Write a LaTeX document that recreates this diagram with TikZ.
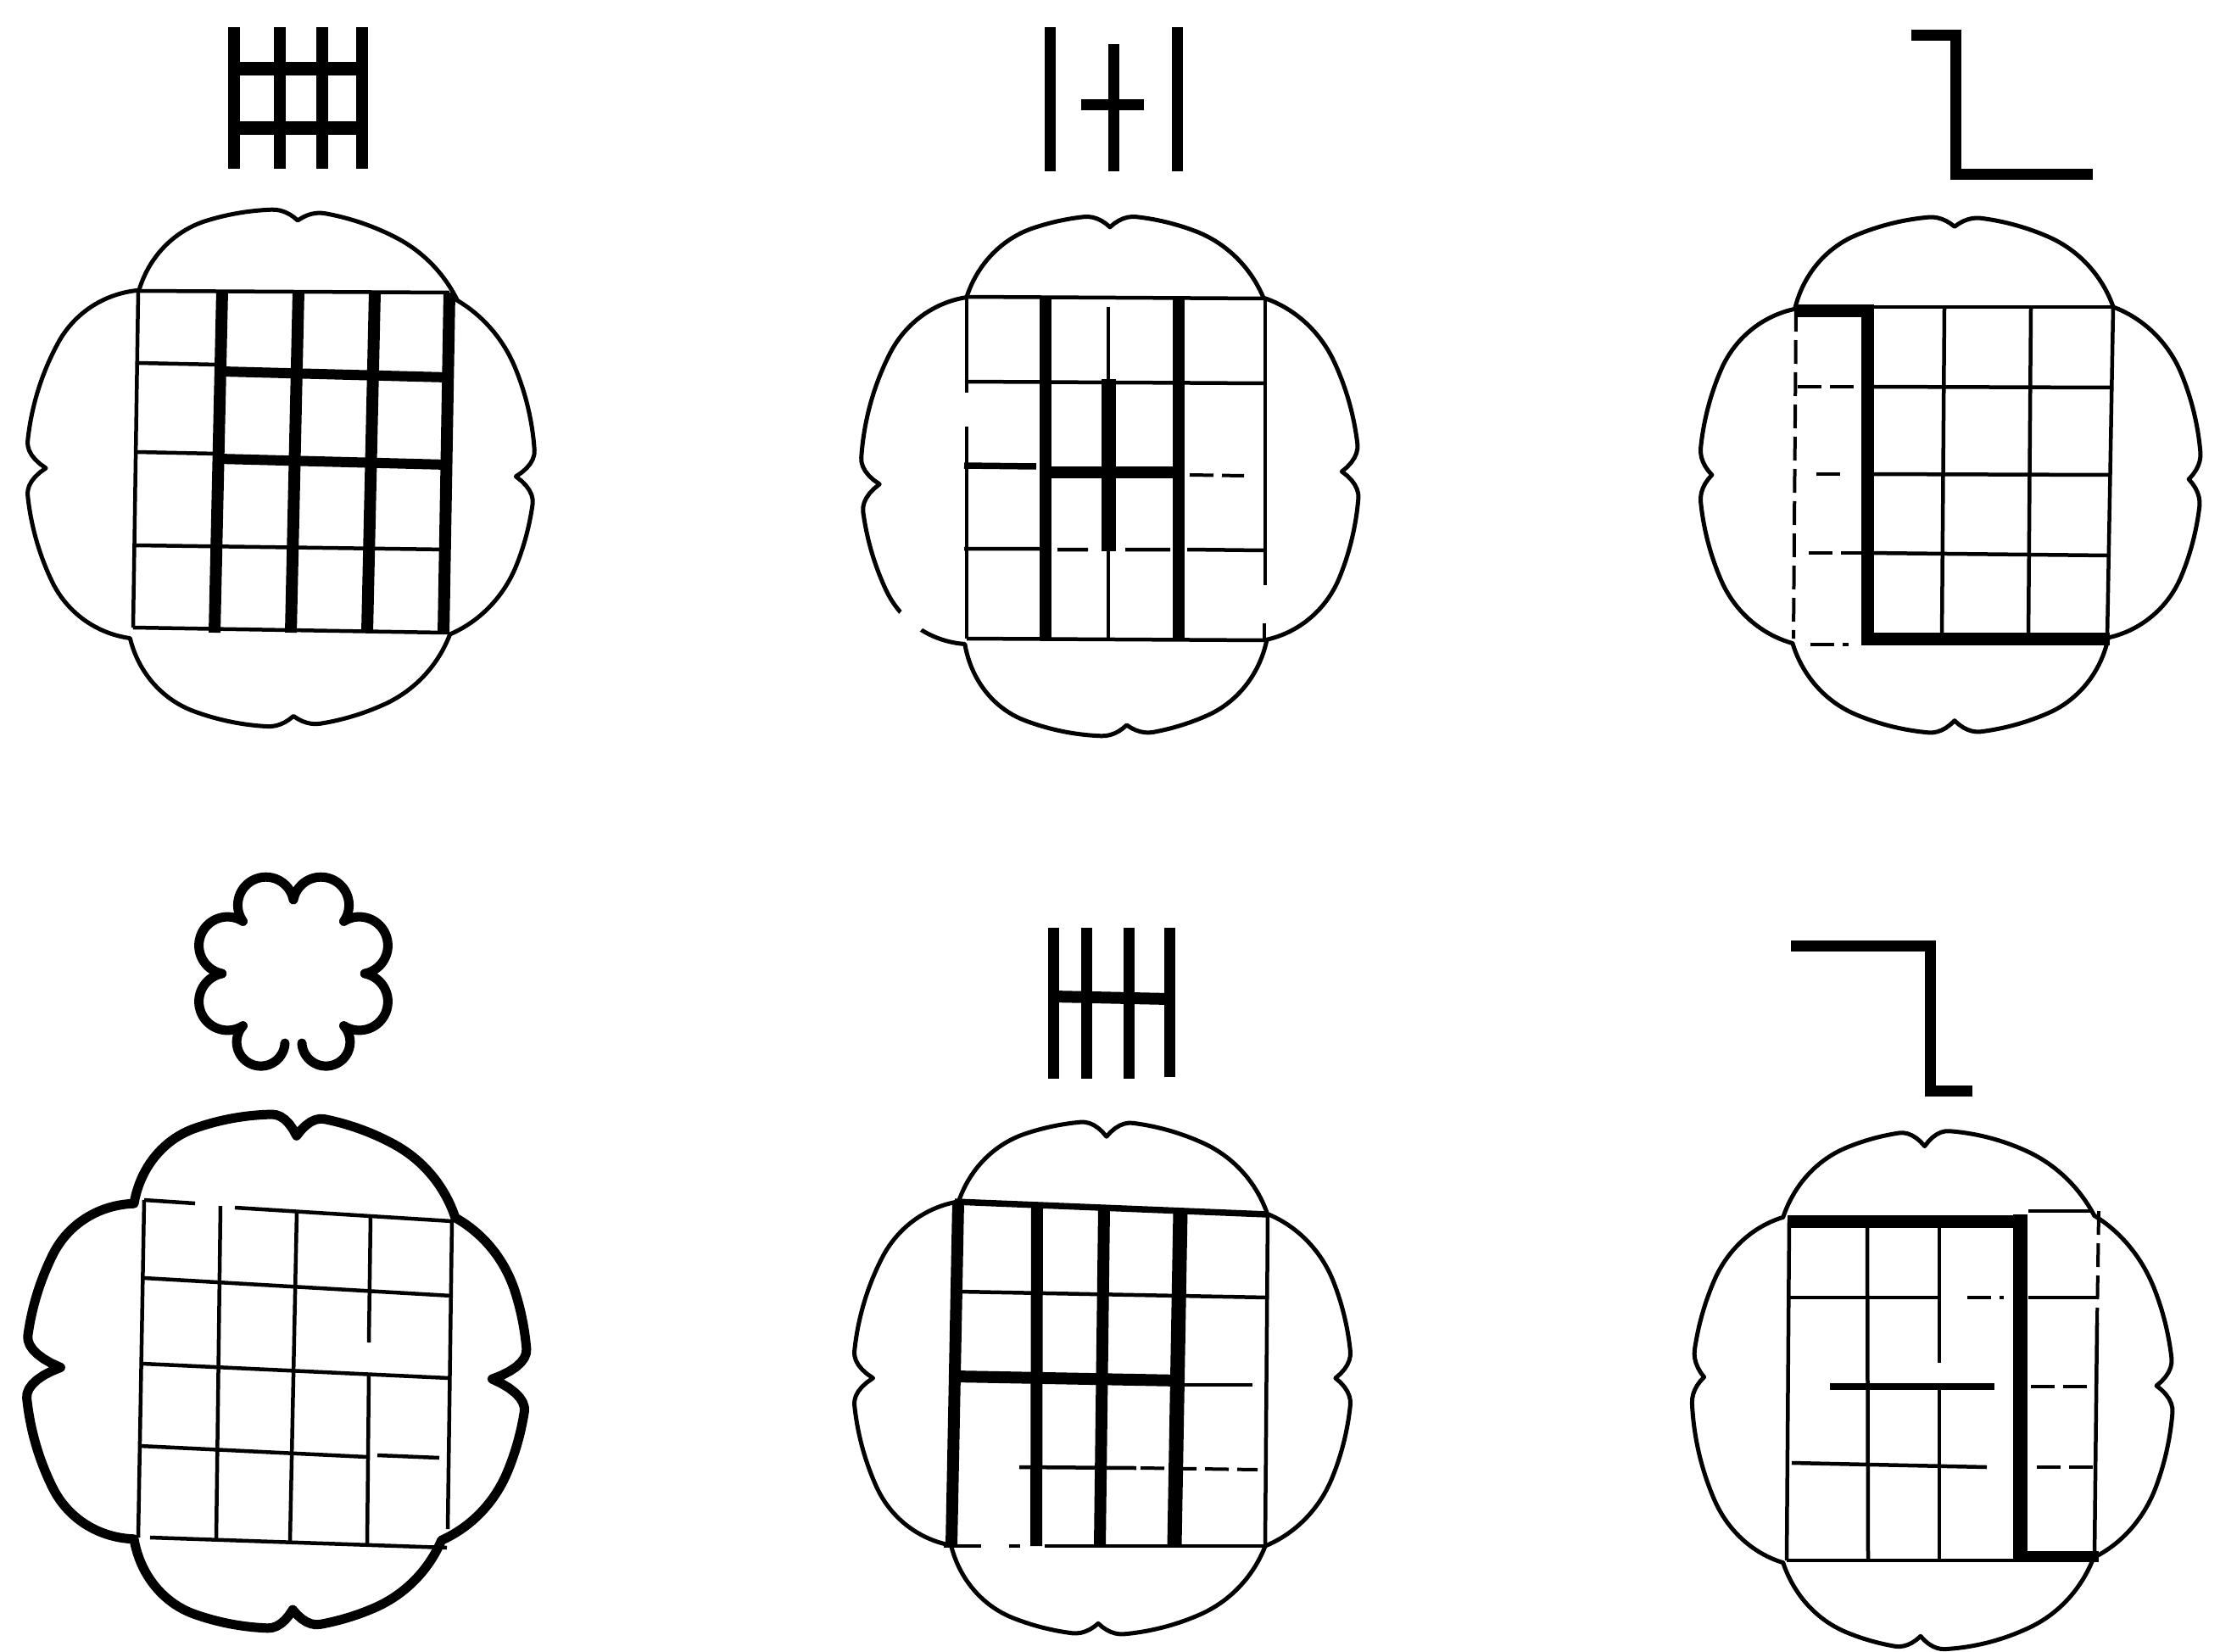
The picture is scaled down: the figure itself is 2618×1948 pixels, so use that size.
\documentclass[tikz,border=0pt]{standalone}
\tikzset{
  declare function={nt(\tx,\tk,\dk,\wk)=\dk*(max(0,1-abs(mod(\tx-\tk+540,360)-180)/\wk))^2;},
  outline/.style={line width=5pt, line join=round, line cap=round},
  boldoutline/.style={line width=11pt, line join=round, line cap=round},
  flowersym/.style={line width=11pt, line join=round, line cap=round},
  gthin/.style={line width=4.5pt},
  gmid/.style={line width=7.5pt},
  gthick/.style={line width=14pt},
  gheavy/.style={line width=17pt},
  gfaint/.style={line width=4pt, dash pattern=on 28pt off 10pt},
  symline/.style={line width=14pt},
}
% notched oval outline: centre (#1,#2), radii #3,#4, style #5; radius profile \rr
\newcommand\lobeoutline[5]{%
  \begin{scope}[shift={(#1,#2)},xscale=#3,yscale=#4]
  \draw[#5] plot[domain=0:359, samples=360, variable=\vx] ({\vx}:{\rr{\vx}}) -- cycle;
  \end{scope}}
% circular arc from (#1,#2) to (#3,#4) bulging to the left of travel by sagitta #5; style #6
\newcommand\sidearc[6]{%
  \pgfmathsetmacro\Ax{#1/100}\pgfmathsetmacro\Ay{#2/100}%
  \pgfmathsetmacro\Bx{#3/100}\pgfmathsetmacro\By{#4/100}%
  \pgfmathsetmacro\Hh{#5/100}%
  \pgfmathsetmacro\Dx{\Bx-\Ax}\pgfmathsetmacro\Dy{\By-\Ay}%
  \pgfmathsetmacro\Cl{sqrt(\Dx*\Dx+\Dy*\Dy)}%
  \pgfmathsetmacro\Nx{\Dy/\Cl}\pgfmathsetmacro\Ny{-\Dx/\Cl}%
  \pgfmathsetmacro\Rr{(\Cl*\Cl/4+\Hh*\Hh)/(2*\Hh)}%
  \pgfmathsetmacro\Ox{(\Ax+\Bx)/2+(\Hh-\Rr)*\Nx}%
  \pgfmathsetmacro\Oy{(\Ay+\By)/2+(\Hh-\Rr)*\Ny}%
  \pgfmathsetmacro\aA{atan2(\Ay-\Oy,\Ax-\Ox)}%
  \pgfmathsetmacro\aB{atan2(\By-\Oy,\Bx-\Ox)}%
  \pgfmathsetmacro\aB{\aB<\aA ? \aB+360 : \aB}%
  \draw[#6] plot[domain=\aA:\aB, samples=50, variable=\vx] ({100*(\Ox+\Rr*cos(\vx))},{100*(\Oy+\Rr*sin(\vx))});%
}
\begin{document}
\begin{tikzpicture}[x=1pt,y=-1pt]
\useasboundingbox (0,0) rectangle (2618,1948);
\fill[white] (0,0) rectangle (2618,1948);

% ================= Panel 1 =================
\draw[symline] (276,32)--(276,199) (330,32)--(330,199) (380,32)--(380,199) (427,32)--(427,199);
\draw[line width=16pt] (276,81)--(427,81) (276,151)--(427,151);
\def\rr#1{(1-nt(#1,2,.075,6)-nt(#1,44,.075,22)-nt(#1,87,.04,6)-nt(#1,132,.115,22)-nt(#1,180,.077,6)-nt(#1,231,.115,22)-nt(#1,274,.04,6)-nt(#1,317,.05,20))}
\lobeoutline{331}{552}{300}{305}{outline}
\draw[gthin] (163,343)--(530,345);
\draw[gthin] (163,343)--(157,740);
\draw[gthin] (163,428)--(258,430);
\draw[gthin] (161,533)--(256,535);
\draw[gthin] (160,643)--(528,648);
\draw[gthin] (157,740)--(523,746);
\draw[gthick] (262,343)--(253,746) (352,343)--(343,746) (442,345)--(433,746) (530,345)--(523,748);
\draw[line width=12pt] (262,438)--(528,445) (258,541)--(527,548);

% ================= Panel 2 =================
\draw[line width=13pt] (1238,32)--(1238,202) (1313,52)--(1313,202) (1388,32)--(1388,202) (1275,124)--(1349,124);
\def\rr#1{(1-nt(#1,359,.07,6)-nt(#1,45,.11,22)-nt(#1,86,.04,6)-nt(#1,132,.13,22)-nt(#1,178,.075,6)-nt(#1,230,.105,22)-nt(#1,270,.045,6)-nt(#1,312,.08,22))}
\lobeoutline{1309}{561}{294}{307}{outline}
\draw[white, line width=10pt] (1086,743)--(1062,722);
\draw[gthin] (1140,350)--(1492,352);
\draw[gthin] (1140,350)--(1140,463) (1140,503)--(1140,753);
\draw[gthin] (1140,450)--(1492,452);
\draw[gmid] (1137,549)--(1222,550);
\draw[gfaint] (1403,560)--(1467,561);
\draw[gthin] (1137,647)--(1228,647) (1247,648)--(1283,648) (1327,648)--(1380,648) (1400,648)--(1490,649);
\draw[gthin] (1140,753)--(1492,755);
\draw[gthin] (1492,352)--(1492,690) (1491,735)--(1491,755);
\draw[gthin] (1307,362)--(1307,447) (1307,650)--(1307,753);
\draw[gthick] (1233,350)--(1233,755) (1390,350)--(1390,755);
\draw[gheavy] (1307,447)--(1307,650);
\draw[gthick] (1233,557)--(1390,557);

% ================= Panel 3 =================
\draw[line width=13pt, line join=miter] (2254,42)--(2306,42)--(2306,205)--(2468,205);
\def\rr#1{(1-nt(#1,1,.05,6)-nt(#1,45,.11,22)-nt(#1,89,.05,6)-nt(#1,134,.095,22)-nt(#1,180,.05,6)-nt(#1,226,.108,22)-nt(#1,271,.04,6)-nt(#1,315,.082,22))}
\lobeoutline{2300}{560}{296}{305}{outline}
\draw[gthin] (2202,362)--(2492,362);
\draw[gthin] (2293,362)--(2290,753) (2395,362)--(2392,753) (2492,362)--(2485,753);
\draw[gthin] (2202,456)--(2492,457) (2202,559)--(2490,560) (2202,652)--(2487,655);
\draw[gfaint] (2118,363)--(2115,753);
\draw[gfaint] (2120,456)--(2195,456) (2142,559)--(2175,559) (2133,652)--(2195,652) (2135,760)--(2180,760);
\draw[line width=15pt, line join=miter] (2118,366)--(2202,366)--(2202,753)--(2488,753);

% ================= Panel 4 =================
\sidearc{430.2}{1148}{405.5}{1209.6}{40}{flowersym}
\sidearc{405.5}{1209.6}{356}{1230}{38}{flowersym}
\sidearc{336}{1230}{286.5}{1209.6}{38}{flowersym}
\sidearc{286.5}{1209.6}{261.8}{1148}{40}{flowersym}
\sidearc{261.8}{1148}{286.5}{1086.4}{40}{flowersym}
\sidearc{286.5}{1086.4}{346}{1060.9}{40}{flowersym}
\sidearc{346}{1060.9}{405.5}{1086.4}{40}{flowersym}
\sidearc{405.5}{1086.4}{430.2}{1148}{40}{flowersym}
\def\rr#1{(1-nt(#1,2,.14,7)-nt(#1,45,.07,22)-nt(#1,86,.07,6)-nt(#1,131,.135,22)-nt(#1,181,.14,7)-nt(#1,229,.135,22)-nt(#1,275,.08,6)-nt(#1,320,.07,22))}
\lobeoutline{326}{1617}{296}{303}{boldoutline}
\draw[gthin] (170,1415)--(230,1419) (277,1424)--(533,1440);
\draw[gthin] (170,1415)--(163,1813);
\draw[gthin] (260,1422)--(255,1815);
\draw[gthin] (350,1429)--(342,1818);
\draw[gthin] (437,1434)--(435,1583) (435,1620)--(433,1822);
\draw[gthin] (533,1440)--(528,1803);
\draw[gthin] (170,1507)--(533,1528);
\draw[gthin] (168,1608)--(530,1625);
\draw[gthin] (165,1705)--(433,1718) (445,1716)--(518,1719);
\draw[gthin] (177,1813)--(527,1825);

% ================= Panel 5 =================
\draw[line width=13pt] (1242,1094)--(1242,1272) (1281,1094)--(1281,1272) (1331,1094)--(1331,1272) (1379,1094)--(1379,1270);
\draw[line width=14pt] (1242,1175)--(1379,1178);
\def\rr#1{(1-nt(#1,0,.065,6)-nt(#1,45,.076,22)-nt(#1,91,.045,6)-nt(#1,133,.11,22)-nt(#1,180,.08,6)-nt(#1,230,.103,22)-nt(#1,271,.06,6)-nt(#1,316,.08,22))}
\lobeoutline{1300}{1625}{294}{303}{outline}
\draw[gmid] (1126,1417)--(1495,1432);
\draw[gthin] (1495,1432)--(1492,1823);
\draw[gthin] (1130,1523)--(1495,1530);
\draw[gthin] (1392,1633)--(1477,1633);
\draw[gthin] (1202,1730)--(1340,1731);
\draw[gfaint] (1345,1731)--(1483,1733);
\draw[gthin] (1113,1823)--(1157,1823) (1190,1823)--(1203,1823) (1232,1823)--(1493,1823);
\draw[gthick] (1130,1417)--(1122,1823) (1223,1420)--(1222,1823) (1302,1425)--(1297,1823);
\draw[gheavy] (1392,1428)--(1385,1823);
\draw[gthick] (1126,1623)--(1392,1628);

% ================= Panel 6 =================
\draw[line width=13pt, line join=miter] (2112,1115)--(2276,1115)--(2276,1286)--(2326,1286);
\def\rr#1{(1-nt(#1,359,.07,6)-nt(#1,44,.07,22)-nt(#1,93,.05,6)-nt(#1,133,.09,22)-nt(#1,183,.05,6)-nt(#1,227,.09,22)-nt(#1,268,.06,6)-nt(#1,315,.05,22))}
\lobeoutline{2279}{1639}{284}{306}{outline}
\draw[gthin] (2392,1428)--(2467,1428);
\draw[gthin] (2110,1438)--(2107,1840) (2202,1438)--(2203,1840);
\draw[gthin] (2287,1438)--(2287,1607) (2287,1635)--(2287,1840);
\draw[gfaint] (2475,1428)--(2473,1560);
\draw[gthin] (2473,1560)--(2470,1835);
\draw[gthin] (2110,1530)--(2285,1530) (2392,1530)--(2475,1530);
\draw[gfaint] (2320,1530)--(2363,1530);
\draw[gmid] (2158,1635)--(2352,1635);
\draw[gfaint] (2395,1635)--(2470,1635);
\draw[gthin] (2113,1725)--(2343,1730);
\draw[gfaint] (2402,1730)--(2468,1730);
\draw[gthin] (2107,1840)--(2382,1840);
\draw[line width=15pt] (2108,1440)--(2382,1440);
\draw[line width=13pt] (2382,1835)--(2475,1835);
\draw[gheavy] (2382,1432)--(2382,1842);
\end{tikzpicture}
\end{document}
